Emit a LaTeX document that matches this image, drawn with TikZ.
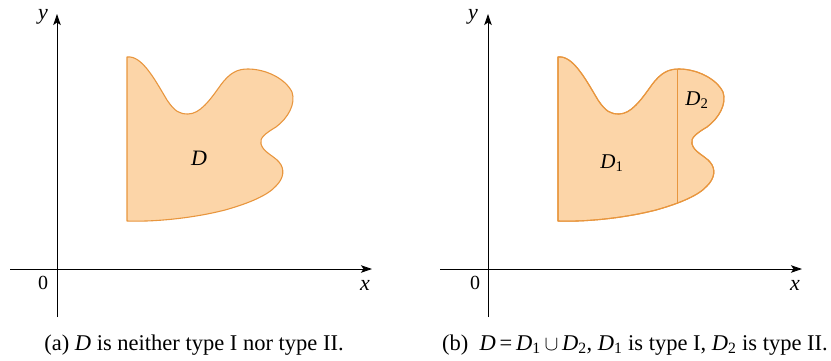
\documentclass[tikz,border=0pt]{standalone}
\usepackage{fontspec}
\setmainfont{Liberation Serif}
\usetikzlibrary{arrows.meta}
\definecolor{regfill}{RGB}{252,213,168}
\definecolor{regline}{RGB}{232,150,62}
\tikzset{
  axis/.style={line width=0.9pt,-{Stealth[length=11pt,width=7.5pt,inset=2.5pt]}},
  region/.style={fill=regfill,draw=regline,line width=1.1pt,line join=round},
  divider/.style={draw=regline,line width=1pt},
  lbl/.style={font=\fontsize{22}{24}\selectfont\itshape,inner sep=0pt},
  captext/.style={font=\fontsize{22.5}{25}\selectfont,inner sep=0pt},
  reglbl/.style={font=\fontsize{21}{24}\selectfont,inner sep=0pt},
  zerolbl/.style={font=\fontsize{20}{22}\selectfont,inner sep=0pt}
}
\def\blob{(127,221) -- (127,57)
 .. controls (142,55) and (155,80) .. (167,100)
 .. controls (175,112) and (180,114) .. (188,114)
 .. controls (200,114) and (210,100) .. (220,86)
 .. controls (230,72) and (238,69) .. (248,69)
 .. controls (265,69) and (285,78) .. (292,92)
 .. controls (296,104) and (288,118) .. (276,127)
 .. controls (266,133) and (259,138) .. (261,144)
 .. controls (263,152) and (274,156) .. (279,162)
 .. controls (285,169) and (284,178) .. (276,186)
 .. controls (268,195) and (250,203) .. (225,210)
 .. controls (190,219) and (150,222) .. (127,221) -- cycle}
\begin{document}
\begin{tikzpicture}[x=1pt,y=-1pt]
\useasboundingbox (0,0) rectangle (831,360);
% ---------- panel (a)
\coordinate (ayb) at (57,317);
\coordinate (ayt) at (57,14);
\coordinate (axl) at (10,269);
\coordinate (axr) at (372,269);
\draw[region] \blob;
\draw[axis] (ayb) -- (ayt);
\draw[axis] (axl) -- (axr);
\node[lbl] (ay) at (43,17) {y};
\node[lbl] (ax) at (365,285) {x};
\node[zerolbl] (a0) at (43,283) {0};
\node[lbl] (aD) at (199,158) {D};
\node[captext] (acap) at (194,345) {(a) \textit{D} is neither type I nor type II.};
% ---------- panel (b)
\begin{scope}[xshift=431pt]
\draw[region] \blob;
\begin{scope}
\clip \blob;
\coordinate (dtop) at (246,40);
\coordinate (dbot) at (246,240);
\draw[divider] (dtop) -- (dbot);
\end{scope}
\draw[draw=regline,line width=1.1pt,line join=round] \blob;
\coordinate (byb) at (57,317);
\coordinate (byt) at (57,14);
\coordinate (bxl) at (9,269);
\coordinate (bxr) at (371,269);
\draw[axis] (byb) -- (byt);
\draw[axis] (bxl) -- (bxr);
\node[lbl] (by) at (42,17) {y};
\node[lbl] (bx) at (364,285) {x};
\node[zerolbl] (b0) at (44,283) {0};
\node[reglbl] (bD1) at (181,163) {\textit{D}\textsubscript{1}};
\node[reglbl] (bD2) at (266,100) {\textit{D}\textsubscript{2}};
\node[captext] (bcap) at (204,345) {(b) \ \textit{D}\,=\,\textit{D}\textsubscript{1}\,$\cup$\,\textit{D}\textsubscript{2}, \textit{D}\textsubscript{1} is type I, \textit{D}\textsubscript{2} is type II.};
\end{scope}
\end{tikzpicture}
\end{document}
